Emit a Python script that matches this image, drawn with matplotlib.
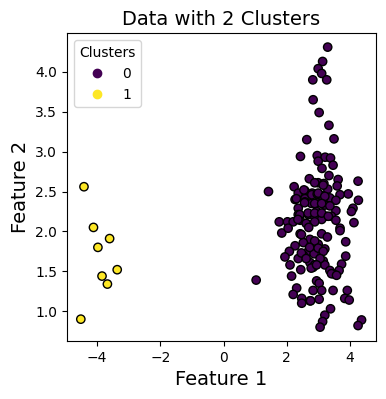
import numpy as np
import matplotlib
matplotlib.use("Agg")
import matplotlib.pyplot as plt

# Cluster 1 (yellow)
x1 = [-4.41, -4.11, -3.60, -3.97, -3.36, -3.84, -3.67, -4.51]
y1 = [2.56, 2.05, 1.91, 1.80, 1.52, 1.44, 1.34, 0.90]

# Cluster 0 (purple)
x0 = [3.29, 3.13, 2.99, 3.10, 2.82, 3.26, 2.83, 3.02, 3.33, 2.63, 3.49,
      2.43, 2.96, 3.21, 3.38, 2.99, 3.46, 3.11, 3.33, 2.71, 3.62, 4.25,
      1.42, 2.99, 3.17, 3.59, 2.23, 3.29, 2.57, 2.80, 2.36, 3.94, 3.68,
      3.10, 3.36, 2.57, 2.26, 4.26, 3.55, 2.94, 2.57, 2.78, 3.20, 2.36,
      4.09, 3.55, 4.04, 2.94, 2.36, 2.68, 3.23, 1.76, 2.02, 2.20, 2.42,
      2.89, 3.10, 3.41, 3.55, 4.12, 2.68, 3.68, 1.84, 2.42, 3.68, 3.10,
      3.28, 2.73, 2.52, 3.86, 2.99, 2.26, 3.20, 2.08, 2.68, 2.86, 2.52,
      1.94, 3.86, 2.36, 3.15, 2.73, 2.10, 3.73, 3.20, 2.83, 2.44, 3.36,
      3.65, 3.46, 2.15, 1.03, 2.94, 3.02, 2.31, 2.83, 3.10, 3.46, 3.91,
      2.20, 2.47, 3.02, 3.83, 3.97, 2.73, 2.47, 3.38, 3.20, 3.13, 3.05,
      4.36, 4.25,
      2.54, 2.88, 2.79, 2.30, 2.56, 2.88, 2.96, 2.41, 2.67, 2.88, 2.35,
      2.61, 2.88, 2.69, 3.15, 2.99, 3.20, 3.10, 3.36, 3.10, 3.31, 2.04,
      2.46, 2.88, 2.72, 2.46, 2.61, 2.88, 2.77, 2.99, 3.15, 3.05, 2.94,
      3.41, 3.57, 2.75]
y0 = [4.31, 4.13, 4.04, 3.98, 3.90, 3.90, 3.65, 3.49, 3.33, 3.15, 3.16,
      2.94, 2.95, 2.93, 2.92, 2.88, 2.83, 2.79, 2.70, 2.66, 2.65, 2.63,
      2.50, 2.61, 2.60, 2.57, 2.56, 2.53, 2.51, 2.48, 2.48, 2.47, 2.46,
      2.45, 2.42, 2.41, 2.40, 2.39, 2.39, 2.36, 2.37, 2.35, 2.33, 2.29,
      2.29, 2.26, 2.25, 2.25, 2.21, 2.21, 2.19, 2.12, 2.12, 2.12, 2.14,
      2.18, 2.15, 2.19, 2.14, 2.11, 2.08, 2.04, 1.98, 1.97, 2.01, 1.97,
      1.93, 1.90, 1.86, 1.87, 1.84, 1.82, 1.78, 1.75, 1.75, 1.72, 1.70,
      1.68, 1.69, 1.66, 1.63, 1.61, 1.58, 1.59, 1.58, 1.55, 1.52, 1.51,
      1.51, 1.47, 1.44, 1.39, 1.38, 1.35, 1.29, 1.26, 1.26, 1.26, 1.26,
      1.21, 1.16, 1.15, 1.16, 1.14, 1.13, 1.10, 1.03, 0.95, 0.87, 0.80,
      0.89, 0.82,
      2.52, 2.61, 2.46, 2.41, 2.36, 2.35, 2.47, 2.21, 2.23, 2.23, 2.15,
      2.10, 2.12, 2.05, 2.58, 2.48, 2.44, 2.35, 2.32, 2.23, 2.19, 2.04,
      1.96, 1.88, 1.80, 1.73, 1.66, 1.58, 1.54, 1.79, 1.75, 1.66, 1.58,
      1.47, 1.45, 1.13]

cluster_names = ["0", "1"]

x = np.array(x0 + x1)
y = np.array(y0 + y1)
labels = np.array([0] * len(x0) + [1] * len(x1))

fig, ax = plt.subplots(figsize=(3.86, 3.99), dpi=100)
sc = ax.scatter(x, y, c=labels, cmap="viridis", edgecolors="black")
handles, _ = sc.legend_elements()
ax.legend(handles, cluster_names, title="Clusters", loc="upper left")
ax.set_title("Data with 2 Clusters", fontsize=14)
ax.set_xlabel("Feature 1", fontsize=14)
ax.set_ylabel("Feature 2", fontsize=14)
fig.subplots_adjust(left=0.173, right=0.973, top=0.917, bottom=0.145)
fig.savefig("out.png", dpi=100)
